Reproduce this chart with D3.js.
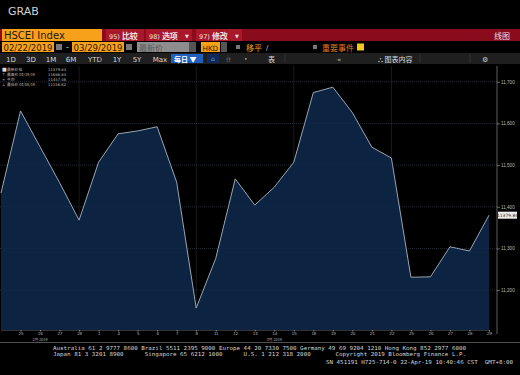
<!DOCTYPE html>
<html lang="zh">
<head>
<meta charset="UTF-8">
<title>HSCEI Index</title>
<script src="https://d3js.org/d3.v7.min.js"></script>
<style>
  body { margin: 0; background: #000; }
  svg { display: block; font-family: "DejaVu Sans", "Noto Sans CJK SC", sans-serif; }
  .cjk { font-family: "Noto Sans CJK SC", sans-serif; }
  .mono { font-family: "DejaVu Sans Mono", "Liberation Mono", monospace; }
</style>
</head>
<body>
<svg id="chart" width="520" height="375"></svg>
<script>
// trading days shown (Feb 22 - Mar 29, 2019)
const dates = ["2019-02-22","2019-02-25","2019-02-26","2019-02-27","2019-02-28",
  "2019-03-01","2019-03-04","2019-03-05","2019-03-06","2019-03-07","2019-03-08",
  "2019-03-11","2019-03-12","2019-03-13","2019-03-14","2019-03-15",
  "2019-03-18","2019-03-19","2019-03-20","2019-03-21","2019-03-22",
  "2019-03-25","2019-03-26","2019-03-27","2019-03-28","2019-03-29"];
// closing values
const closes = [11433, 11630, 11544, 11458, 11368,
  11507, 11575, 11582, 11592, 11459, 11157,
  11276, 11467, 11404, 11447, 11507,
  11674, 11687, 11626, 11543, 11517,
  11231, 11232, 11304, 11294, 11379.84];
const yTicks = [11200, 11300, 11400, 11500, 11600, 11700];
const gridDates = ["2019-02-28", "2019-03-08", "2019-03-15", "2019-03-22"];
const monthLabels = [["2019-02-26", "2月 2019"], ["2019-03-14", "3月 2019"]];
const periodButtons = ["1D", "3D", "1M", "6M", "YTD", "1Y", "5Y", "Max"];
const legendRows = [["■", "最新价格", "", "11379.84"],
  ["⊤", "最高价", "03/19/19", "11686.84"],
  ["+", "平均", "", ""],
  ["⊥", "最低价", "03/08/19", "11156.62"]];

const svg = d3.select("#chart");
const W = 520;

// ---- header ----
svg.append("text").attr("x", 8).attr("y", 15).attr("fill", "#d0d0d0")
  .attr("font-size", 11).text("GRAB");

svg.append("rect").attr("x", 0).attr("y", 29).attr("width", W).attr("height", 12).attr("fill", "#8a0c1c");
svg.append("rect").attr("x", 2).attr("y", 29).attr("width", 100).attr("height", 12).attr("fill", "#f7a11a");
svg.append("text").attr("x", 4).attr("y", 39).attr("font-size", 10).attr("fill", "#1a1a1a").text("HSCEI Index");
const redBtns = [[106, 38, "95) ", "比较", false], [146, 46, "98) ", "选项", true], [196, 46, "97) ", "修改", true]];
redBtns.forEach(([x, w, n, t, arrow]) => {
  svg.append("rect").attr("x", x).attr("y", 29).attr("width", w).attr("height", 12).attr("fill", "#a8182a");
  const tx = svg.append("text").attr("x", x + 3).attr("y", 38.5).attr("fill", "#f0e0e0").attr("font-size", 8);
  tx.append("tspan").attr("font-size", 6.5).text(n);
  tx.append("tspan").attr("class", "cjk").attr("font-weight", "bold").text(t);
  if (arrow) svg.append("text").attr("x", x + w - 7).attr("y", 38).attr("fill", "#f0e0e0").attr("font-size", 5).text("▼");
});
svg.append("text").attr("class", "cjk").attr("x", 510).attr("y", 38.5).attr("text-anchor", "end")
  .attr("fill", "#f0dede").attr("font-size", 8).text("线图");

// row 2
function orangeBox(x, w, label, fs) {
  svg.append("rect").attr("x", x).attr("y", 42).attr("width", w).attr("height", 10).attr("fill", "#f7a11a");
  svg.append("text").attr("x", x + 1.5).attr("y", 50.5).attr("fill", "#2a1a00").attr("font-size", fs || 8.5).text(label);
}
orangeBox(2, 52, "02/22/2019");
svg.append("rect").attr("x", 56).attr("y", 44).attr("width", 6).attr("height", 6).attr("fill", "#777");
svg.append("text").attr("x", 66).attr("y", 50).attr("fill", "#ccc").attr("font-size", 8).text("-");
orangeBox(72, 52, "03/29/2019");
svg.append("rect").attr("x", 126).attr("y", 44).attr("width", 6).attr("height", 6).attr("fill", "#777");
svg.append("rect").attr("x", 137).attr("y", 42).attr("width", 52).attr("height", 10).attr("fill", "#8d8d8d");
svg.append("text").attr("class", "cjk").attr("x", 139).attr("y", 50.5).attr("fill", "#5a5a5a").attr("font-size", 8).text("最新价");
svg.append("rect").attr("x", 189).attr("y", 42).attr("width", 7).attr("height", 10).attr("fill", "#555");
orangeBox(201, 19, "HKD", 7.2);
svg.append("rect").attr("x", 221).attr("y", 42).attr("width", 6).attr("height", 10).attr("fill", "#555");
svg.append("rect").attr("x", 236).attr("y", 45).attr("width", 4).attr("height", 4).attr("fill", "#777");
svg.append("text").attr("class", "cjk").attr("x", 246).attr("y", 50.5).attr("fill", "#f0a020").attr("font-size", 8).text("移平");
svg.append("text").attr("x", 266).attr("y", 50).attr("fill", "#ccc").attr("font-size", 7).text("/");
svg.append("rect").attr("x", 313).attr("y", 45).attr("width", 4).attr("height", 4).attr("fill", "#777");
svg.append("text").attr("class", "cjk").attr("x", 322).attr("y", 50.5).attr("fill", "#e07a20").attr("font-size", 8).text("重要事件");
svg.append("rect").attr("x", 357).attr("y", 43.5).attr("width", 7).attr("height", 7).attr("fill", "#f2c81a");

// row 3 toolbar
svg.append("rect").attr("x", 0).attr("y", 53).attr("width", W).attr("height", 11).attr("fill", "#1f1f1f");
const btnX = [11, 31, 51, 71, 95, 117, 137, 160];
periodButtons.forEach((b, i) => {
  svg.append("text").attr("x", btnX[i]).attr("y", 61.5).attr("text-anchor", "middle")
    .attr("fill", "#d8d8d8").attr("font-size", 7).text(b);
});
svg.append("rect").attr("x", 171).attr("y", 54).attr("width", 32).attr("height", 9).attr("fill", "#2260c0");
svg.append("text").attr("class", "cjk").attr("x", 174).attr("y", 61.5).attr("fill", "#fff").attr("font-size", 7).attr("font-weight", "bold").text("每日 ▼");
svg.append("rect").attr("x", 207).attr("y", 54).attr("width", 12).attr("height", 9).attr("fill", "#0f2a5a");
svg.append("text").attr("x", 213).attr("y", 61).attr("text-anchor", "middle").attr("fill", "#5a9ae0").attr("font-size", 6).text("⌂");
svg.append("text").attr("x", 226).attr("y", 61.5).attr("fill", "#aaa").attr("font-size", 6).text("!!");
svg.append("text").attr("x", 244).attr("y", 61).attr("fill", "#aaa").attr("font-size", 6).text("•");
svg.append("text").attr("class", "cjk").attr("x", 268).attr("y", 61.5).attr("fill", "#d8d8d8").attr("font-size", 7).text("表");
svg.append("text").attr("x", 337).attr("y", 61.5).attr("fill", "#bbb").attr("font-size", 7).text("«");
svg.append("text").attr("class", "cjk").attr("x", 378).attr("y", 61.5).attr("fill", "#d8d8d8").attr("font-size", 7).text("⛬ 图表内容");
svg.append("text").attr("x", 482).attr("y", 61.5).attr("fill", "#ccc").attr("font-size", 7).text("⚙");
[100, 228, 285, 420, 470].forEach(x => svg.append("line").attr("x1", x).attr("x2", x)
  .attr("y1", 54).attr("y2", 63).attr("stroke", "#333"));

// ---- plot ----
const parse = d3.timeParse("%Y-%m-%d");
const data = dates.map((d, i) => ({ date: d, day: parse(d).getDate(), v: closes[i] }));

const x = d3.scalePoint().domain(dates).range([1, 489]);
const y = d3.scaleLinear().domain([11102, 11733]).range([331, 68]);
const base = 330;

const plot = svg.append("g");

// grid
plot.selectAll(".hg").data(yTicks).enter().append("line")
  .attr("x1", 0).attr("x2", 497).attr("y1", d => y(d)).attr("y2", d => y(d))
  .attr("stroke", "#3a3a3a").attr("stroke-width", 0.6).attr("stroke-dasharray", "1,1");
plot.selectAll(".vg").data(gridDates).enter().append("line")
  .attr("x1", d => x(d)).attr("x2", d => x(d)).attr("y1", 66).attr("y2", base)
  .attr("stroke", "#2e2e2e").attr("stroke-width", 0.6);

const area = d3.area().x(d => x(d.date)).y0(base).y1(d => y(d.v));
const line = d3.line().x(d => x(d.date)).y(d => y(d.v));

plot.append("path").datum(data).attr("d", area).attr("fill", "#0c2442");
plot.append("path").datum(data).attr("d", line).attr("fill", "none")
  .attr("stroke", "#a8b4c4").attr("stroke-width", 0.9);

// faint grid visible through the fill
plot.selectAll(".hg2").data(yTicks).enter().append("line")
  .attr("x1", 0).attr("x2", 497).attr("y1", d => y(d)).attr("y2", d => y(d))
  .attr("stroke", "#27405e").attr("stroke-width", 0.5).attr("stroke-dasharray", "1,1")
  .attr("opacity", 0.5);

// right axis
const yAxis = d3.axisRight(y).tickValues(yTicks).tickSize(3).tickFormat(d3.format(","));
const ya = svg.append("g").attr("transform", "translate(497,0)").call(yAxis);
ya.select(".domain").attr("d", "M0,66V334").attr("stroke", "#888").attr("stroke-width", 0.7);
ya.selectAll(".tick line").attr("stroke", "#aaa").attr("stroke-width", 0.6);
ya.selectAll(".tick text").attr("fill", "#bbb").attr("font-size", 4.6).attr("x", 4);

// last value tag
const last = data[data.length - 1];
svg.append("rect").attr("x", 498).attr("y", y(last.v) - 3.5).attr("width", 19).attr("height", 7)
  .attr("fill", "#eee");
svg.append("text").attr("x", 507.5).attr("y", y(last.v) + 1.7).attr("text-anchor", "middle")
  .attr("fill", "#222").attr("font-size", 4.4).text(d3.format(".2f")(last.v));

// bottom axis
const xAxis = d3.axisBottom(x).tickSize(1.5).tickFormat(d => parse(d).getDate());
const xa = svg.append("g").attr("transform", `translate(0,${base})`).call(xAxis);
xa.select(".domain").attr("stroke", "#555").attr("stroke-width", 0.6);
xa.selectAll(".tick line").attr("stroke", "#888");
xa.selectAll(".tick text").attr("fill", "#bbb").attr("font-size", 4.4).attr("y", 2);
xa.selectAll(".tick").filter(d => d === dates[0]).remove();
monthLabels.forEach(([d, t]) => {
  svg.append("text").attr("class", "cjk").attr("x", x(d)).attr("y", 341).attr("text-anchor", "middle")
    .attr("fill", "#aaa").attr("font-size", 3.8).text(t);
});

// legend
const avg = d3.mean(closes);
legendRows[2][3] = d3.format(".2f")(avg);
legendRows.forEach((r, i) => {
  const ly = 71 + i * 5;
  svg.append("text").attr("x", 2).attr("y", ly).attr("fill", "#ddd").attr("font-size", i === 0 ? 5 : 3.8).text(r[0]);
  svg.append("text").attr("class", "cjk").attr("x", 7).attr("y", ly).attr("fill", "#bbb").attr("font-size", 3.8)
    .text(r[1] + (r[2] ? " " + r[2] : ""));
  svg.append("text").attr("x", 48).attr("y", ly).attr("fill", "#bbb").attr("font-size", 3.8).text(r[3]);
});

// ---- footer ----
svg.append("line").attr("x1", 0).attr("x2", W).attr("y1", 342.5).attr("y2", 342.5).attr("stroke", "#777").attr("stroke-width", 0.7);
const charW = 3.53;
const foot = [
  [53, 349.5, "Australia 61 2 9777 8600 Brazil 5511 2395 9000 Europe 44 20 7330 7500 Germany 49 69 9204 1210 Hong Kong 852 2977 6000"],
  [53, 356, "Japan 81 3 3201 8900      Singapore 65 6212 1000      U.S. 1 212 318 2000       Copyright 2019 Bloomberg Finance L.P."],
  [326, 363.5, "SN 451191 H725-714-0 22-Apr-19 10:40:46 CST  GMT+8:00"]
];
foot.forEach(([fx, fy, t]) => {
  svg.append("text").attr("class", "mono").attr("x", fx).attr("y", fy).attr("fill", "#d4d4d4")
    .attr("font-size", 5.4).attr("textLength", t.length * charW).attr("lengthAdjust", "spacingAndGlyphs")
    .attr("xml:space", "preserve").style("white-space", "pre").text(t);
});
</script>
</body>
</html>
